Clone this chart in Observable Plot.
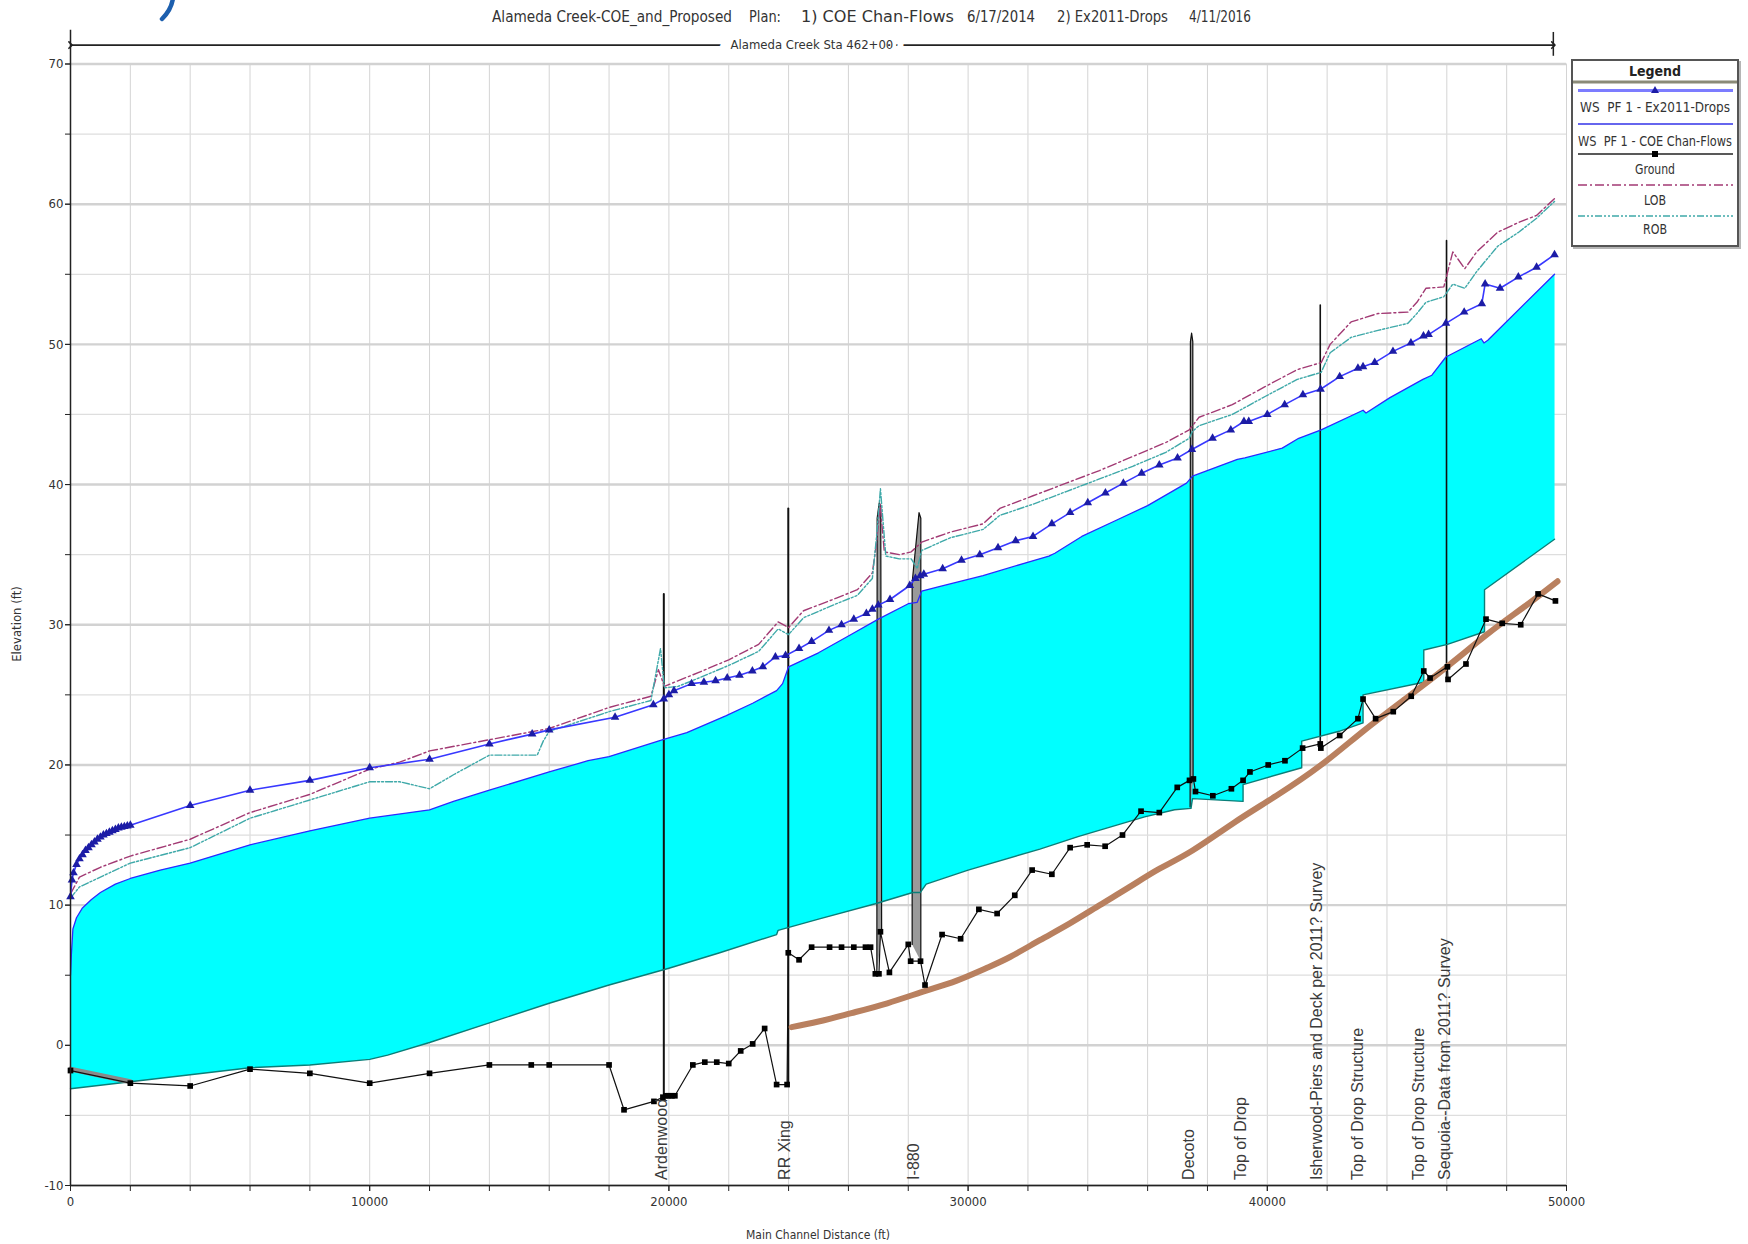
<!DOCTYPE html>
<html><head><meta charset="utf-8">
<script src="https://cdn.jsdelivr.net/npm/d3@7"></script>
<script src="https://cdn.jsdelivr.net/npm/@observablehq/plot@0.6"></script>
<style>html,body{margin:0;padding:0;background:#fff;} #chart{width:1748px;height:1244px;overflow:hidden;position:relative;}</style>
</head><body><div id="chart"></div>
<script>
// ---------- DATA (Main Channel Distance ft, Elevation ft) ----------
const exWS = [[0,10.6],[50,11.8],[100,12.3],[200,12.9],[300,13.3],[400,13.6],[500,13.9],[600,14.1],[700,14.3],[800,14.5],[900,14.7],[1000,14.85],[1100,15.0],[1200,15.1],[1300,15.2],[1400,15.3],[1500,15.4],[1600,15.5],[1700,15.55],[1800,15.6],[1900,15.65],[2000,15.7],[4000,17.1],[6000,18.2],[8000,18.9],[10000,19.8],[12000,20.4],[14000,21.5],[15430,22.2],[16000,22.5],[18200,23.4],[19480,24.3],[19830,24.7],[20000,25.0],[20170,25.3],[20760,25.8],[21170,25.9],[21560,26.0],[21950,26.2],[22360,26.4],[22790,26.7],[23140,27.0],[23560,27.7],[23900,27.8],[24350,28.3],[24770,28.8],[25350,29.6],[25770,30.0],[26180,30.4],[26600,30.8],[26800,31.1],[27000,31.4],[27390,31.8],[28050,32.8],[28240,33.3],[28400,33.5],[28520,33.6],[29150,34.0],[29780,34.6],[30390,35.0],[31000,35.5],[31590,36.0],[32170,36.3],[32800,37.2],[33410,38.0],[34000,38.7],[34590,39.4],[35190,40.1],[35800,40.8],[36390,41.4],[37000,41.9],[37480,42.5],[38170,43.3],[38780,43.9],[39220,44.5],[39380,44.5],[40000,45.0],[40580,45.7],[41190,46.4],[41780,46.8],[42420,47.7],[43030,48.3],[43200,48.4],[43590,48.7],[44200,49.5],[44800,50.1],[45220,50.6],[45390,50.7],[45970,51.5],[46580,52.3],[47170,52.9],[47280,54.3],[47780,54.0],[48390,54.8],[49000,55.5],[49600,56.4]];

const coeWS = [[0,5.0],[30,6.5],[80,8.3],[200,9.1],[400,9.8],[700,10.4],[1000,10.9],[1500,11.5],[2000,11.9],[3000,12.5],[4000,13.0],[6000,14.3],[8000,15.3],[10000,16.2],[12000,16.8],[12800,17.4],[14000,18.2],[16000,19.5],[17300,20.3],[18000,20.6],[19800,21.8],[20600,22.3],[21900,23.5],[22800,24.4],[23600,25.3],[23800,25.8],[24000,27.0],[25000,28.0],[26000,29.2],[27000,30.4],[28000,31.5],[28300,31.6],[28450,32.4],[29000,32.7],[30500,33.5],[31900,34.4],[32700,34.9],[32900,35.1],[33800,36.3],[34900,37.4],[36000,38.5],[37300,40.1],[37500,40.6],[39000,41.8],[39250,41.9],[40500,42.6],[41050,43.3],[41800,43.9],[43200,45.3],[43300,45.1],[44100,46.2],[45200,47.5],[45500,47.8],[45970,49.1],[47150,50.4],[47240,50.1],[47370,50.3],[49600,55.0]];

const coeBed = [[0,-3.1],[2000,-2.6],[4000,-2.1],[6000,-1.6],[8000,-1.4],[10000,-1.0],[10600,-0.7],[12000,0.2],[14000,1.6],[16000,3.0],[18000,4.3],[20000,5.5],[21700,6.6],[23600,7.9],[23650,8.2],[25000,9.0],[26900,10.1],[28150,10.9],[28400,10.9],[28600,11.5],[30000,12.5],[32400,14.0],[33700,14.9],[34800,15.6],[35900,16.3],[36900,16.8],[37450,16.9],[37500,17.6],[39190,17.4],[39190,18.6],[41150,19.8],[41150,21.7],[42400,22.4],[43200,23.0],[43200,25.0],[45230,25.9],[45230,28.2],[46020,28.6],[47260,29.5],[47260,32.5],[49600,36.1]];

const ground = [[0,-1.8],[2000,-2.7],[4000,-2.9],[6000,-1.7],[8000,-2.0],[10000,-2.7],[12000,-2.0],[14000,-1.4],[15400,-1.4],[16000,-1.4],[18000,-1.4],[18500,-4.6],[19500,-4.0],[19800,-3.7],[19900,-3.6],[20000,-3.6],[20100,-3.6],[20200,-3.6],[20800,-1.4],[21200,-1.2],[21600,-1.2],[22000,-1.3],[22400,-0.4],[22800,0.1],[23200,1.2],[23600,-2.8],[23950,-2.8],[23990,6.6],[24350,6.1],[24770,7.0],[25370,7.0],[25770,7.0],[26180,7.0],[26570,7.0],[26740,7.0],[26900,5.1],[27020,5.1],[27070,8.1],[27370,5.2],[28000,7.2],[28080,6.0],[28410,6.0],[28560,4.3],[29130,7.9],[29750,7.6],[30360,9.7],[30970,9.4],[31560,10.7],[32140,12.5],[32800,12.2],[33410,14.1],[33980,14.3],[34580,14.2],[35160,15.0],[35780,16.7],[36390,16.6],[36990,18.4],[37400,18.9],[37530,19.0],[37600,18.1],[38180,17.8],[38800,18.3],[39190,18.9],[39420,19.5],[40030,20.0],[40590,20.3],[41180,21.2],[41770,21.5],[41790,21.2],[42420,22.1],[43030,23.3],[43200,24.7],[43620,23.3],[44210,23.8],[44810,24.9],[45230,26.7],[45440,26.2],[46020,27.0],[46040,26.1],[46640,27.2],[47310,30.4],[47850,30.1],[48470,30.0],[49050,32.2],[49630,31.7]];

const lob = [[0,10.8],[300,12.0],[1000,12.7],[2000,13.5],[4000,14.7],[6000,16.6],[8000,17.9],[10000,19.7],[11000,20.2],[12000,21.0],[14000,21.8],[16000,22.6],[18000,24.1],[19400,24.9],[19650,26.8],[19850,25.6],[20300,26.0],[21000,26.6],[22000,27.5],[23000,28.6],[23650,30.2],[24000,29.8],[24500,31.0],[25600,31.9],[26300,32.5],[26800,33.7],[26950,36.0],[27060,38.6],[27200,35.2],[27700,35.0],[28100,35.2],[28450,35.9],[29400,36.6],[30500,37.2],[31060,38.3],[32170,39.2],[33280,40.1],[34390,41.0],[35500,42.0],[36610,43.0],[37390,43.9],[37500,44.2],[37720,44.8],[38830,45.7],[39940,47.0],[41000,48.2],[41800,48.7],[42100,50.0],[42800,51.6],[43700,52.2],[44700,52.3],[45000,53.0],[45300,54.0],[45900,54.1],[46200,56.6],[46600,55.4],[47000,56.6],[47700,58.0],[48400,58.7],[49000,59.2],[49600,60.4]];

const rob = [[0,10.5],[300,11.3],[1000,12.0],[2000,13.0],[4000,14.1],[6000,16.2],[8000,17.5],[10000,18.8],[11000,18.8],[12000,18.3],[12800,19.3],[14000,20.7],[15600,20.7],[15800,21.7],[16000,22.4],[18000,23.8],[19400,24.6],[19720,28.3],[19850,25.5],[20300,25.6],[21000,26.2],[22000,27.1],[23000,28.1],[23650,29.7],[24000,29.3],[24500,30.5],[25600,31.5],[26300,32.1],[26800,33.3],[26950,36.5],[27070,39.7],[27250,34.9],[27700,34.7],[28100,34.7],[28300,34.0],[28450,35.3],[29400,36.2],[30500,36.8],[31060,37.8],[32170,38.6],[33280,39.5],[34390,40.4],[35500,41.3],[36610,42.3],[37390,43.3],[37500,43.8],[37720,44.2],[38830,45.0],[39940,46.3],[41000,47.5],[41800,48.0],[42100,49.4],[42800,50.5],[43700,51.0],[44700,51.5],[45000,52.2],[45300,53.0],[45900,53.4],[46200,54.3],[46600,54.0],[47000,55.2],[47700,57.0],[48400,58.0],[49000,59.0],[49600,60.2]];

const brownCurve = [[24100,1.3],[25000,1.7],[26100,2.3],[27300,3.0],[28600,3.9],[29600,4.6],[30600,5.5],[31400,6.3],[32400,7.5],[33400,8.7],[34400,10.0],[35400,11.3],[36400,12.6],[37500,13.9],[38900,15.9],[40300,17.8],[41800,20.0],[43200,22.4],[44600,24.7],[46000,27.0],[47400,29.4],[48600,31.3],[49700,33.1]];
const grayLine = [[0,-1.7],[2000,-2.6]];

const bridgeArdenwood = [[19830,-3.7],[19830,32.2]];
const bridgeRR = [[23990,-2.9],[23990,38.3]];
const bridge27000 = [[26950,5.1],[26960,37.6],[27030,38.7],[27080,38.4],[27110,8.1]];
const bridgeI880 = [[28130,7.2],[28130,33.0],[28360,38.0],[28420,37.6],[28420,6.0]];
const bridgeDecoto = [[37420,17.0],[37430,50.2],[37470,50.8],[37510,50.2],[37520,18.9]];
const bridgeIsherwood = [[41770,21.4],[41770,52.8]];
const bridgeSequoia = [[45990,26.3],[45990,57.4]];

const structureNames = ["Ardenwood","RR Xing","I-880","Decoto","Top of Drop","Isherwood-Piers and Deck per 2011? Survey","Top of Drop Structure","Top of Drop Structure","Sequoia--Data from 2011? Survey"];
const structureStations = [19750,23880,28200,37390,39110,41650,43030,45050,45930];

const reachStart = 0, reachEnd = 49560, reachLabel = "Alameda Creek Sta 462+00";

const xLabelTicks = [0,10000,20000,30000,40000,50000];
const xMinorTicks = d3.range(0,50001,2000);
const yLabelTicks = [-10,0,10,20,30,40,50,60,70];
const yMinorTicks = d3.range(-10,71,5);

const titleParts = ["Alameda Creek-COE_and_Proposed","Plan:","1) COE Chan-Flows","6/17/2014","2) Ex2011-Drops","4/11/2016"];
const legendItems = ["WS  PF 1 - Ex2011-Drops","WS  PF 1 - COE Chan-Flows","Ground","LOB","ROB"];

// ---------- CHART ----------
const NARROW = "'Liberation Sans Narrow','Arial Narrow','DejaVu Sans Condensed',sans-serif";
const SANS = "'Liberation Sans',Arial,sans-serif";
const pts = a => a.map(([x,y]) => ({x, y}));
const cyanPoly = pts([...coeWS, ...coeBed.slice().reverse()]);
const structs = structureNames.map((name,i) => ({name, x: structureStations[i]}));
const labelBase = -9.6;
const reachY = 71.35;

const C_WS_EX = "#3838ff", C_TRI = "#1c1ca6", C_WS_COE = "#2a2aff";
const C_BED = "#0b7e78", C_LOB = "#a23a74", C_ROB = "#3fa9a9", C_BROWN = "#b9805f";

const bridgeMark = (a, w) => Plot.line(pts(a), {x:"x", y:"y", stroke:"#111", strokeWidth:w});
const bridgeFill = (a) => Plot.line(pts(a), {x:"x", y:"y", stroke:"#111", strokeWidth:1.2, fill:"#9a9a9a"});

const chart = Plot.plot({
  width: 1748, height: 1244,
  marginLeft: 70, marginRight: 182, marginTop: 63.5, marginBottom: 59,
  x: {domain: [0, 50000], axis: null},
  y: {domain: [-10, 70], axis: null},
  style: {fontFamily: NARROW, background: "white", overflow: "visible"},
  marks: [
    Plot.gridX(xMinorTicks, {stroke: "#d4d4d4", strokeOpacity: 1, strokeWidth: 1}),
    Plot.gridY(yMinorTicks.filter(d => d % 10 !== 0), {stroke: "#dedede", strokeOpacity: 1, strokeWidth: 1.3}),
    Plot.gridY(yLabelTicks, {stroke: "#d2d2d2", strokeOpacity: 1, strokeWidth: 2.4}),
    // water fill
    Plot.line(cyanPoly, {x:"x", y:"y", fill:"#00ffff", stroke:"none", curve:"linear"}),
    // structures
    bridgeMark(bridgeArdenwood, 2),
    bridgeMark(bridgeRR, 2),
    bridgeFill(bridge27000),
    bridgeFill(bridgeI880),
    bridgeFill(bridgeDecoto),
    bridgeMark(bridgeIsherwood, 1.6),
    bridgeMark(bridgeSequoia, 1.6),
    // COE plan
    Plot.line(pts(coeWS), {x:"x", y:"y", stroke:C_WS_COE, strokeWidth:1.3}),
    Plot.line(pts(coeBed), {x:"x", y:"y", stroke:C_BED, strokeWidth:1.4}),
    // sketched lines
    Plot.line(pts(brownCurve), {x:"x", y:"y", stroke:C_BROWN, strokeWidth:6, curve:"natural"}),
    Plot.line(pts(grayLine), {x:"x", y:"y", stroke:"#8a8a8a", strokeWidth:5}),
    // ground
    Plot.line(pts(ground), {x:"x", y:"y", stroke:"#111", strokeWidth:1.2}),
    Plot.dot(pts(ground), {x:"x", y:"y", symbol:"square", r:3.2, fill:"#000", stroke:"none"}),
    // banks
    Plot.line(pts(lob), {x:"x", y:"y", stroke:C_LOB, strokeWidth:1.4, strokeDasharray:"9,3,2,3"}),
    Plot.line(pts(rob), {x:"x", y:"y", stroke:C_ROB, strokeWidth:1.4, strokeDasharray:"7,2,2,2,2,2"}),
    // Ex2011 WS
    Plot.line(pts(exWS), {x:"x", y:"y", stroke:C_WS_EX, strokeWidth:1.6}),
    Plot.dot(pts(exWS), {x:"x", y:"y", symbol:"triangle", r:3.2, fill:C_TRI, stroke:"none"}),
    // structure labels
    Plot.text(structs, {x:"x", y: () => labelBase, text:"name", rotate:-90, textAnchor:"start", lineAnchor:"middle", fontSize:16, fontFamily:SANS, fill:"#3a3a3a"}),
    // axes
    Plot.ruleY([-10], {stroke:"#222", strokeWidth:1.5}),
    Plot.ruleX([0], {y1:-10, y2:72.4, stroke:"#222", strokeWidth:1.5}),
    Plot.axisX(xMinorTicks, {tickSize:6, tickFormat:() => "", label:null, stroke:"#222"}),
    Plot.axisX(xLabelTicks, {tickSize:6, tickPadding:5, label:null, fontSize:13, fill:"#333", stroke:"#222", tickFormat: d => String(d)}),
    Plot.axisY(yMinorTicks, {tickSize:5, tickFormat:() => "", label:null, stroke:"#222"}),
    Plot.axisY(yLabelTicks, {tickSize:5, tickPadding:2, label:null, fontSize:13, fill:"#333", stroke:"#222", tickFormat: d => String(d)}),
    // reach arrow
    Plot.link([{x1:reachStart, x2:reachEnd, y:reachY}], {x1:"x1", x2:"x2", y1:"y", y2:"y", stroke:"#222", strokeWidth:1.6, markerStart:"arrow", markerEnd:"arrow"}),
    Plot.ruleX([reachEnd], {y1: reachY - 0.8, y2: reachY + 0.9, stroke:"#222", strokeWidth:1.5}),
    Plot.text([reachLabel], {x: () => (reachStart + reachEnd) / 2, y: () => reachY, text: d => d, fontSize:13, fill:"#333", stroke:"white", strokeWidth:22, paintOrder:"stroke"})
  ]
});

document.getElementById("chart").appendChild(chart);
const svg = d3.select(chart);

// title
const titleX = [[492,732],[749,781],[801,954],[967,1035],[1057,1168],[1189,1251]];
titleParts.forEach((t,i) => {
  svg.append("text").attr("x", titleX[i][0]).attr("y", 22).attr("text-anchor", "start").attr("font-family", NARROW)
    .attr("font-size", 16).attr("fill", "#333").attr("textLength", titleX[i][1]-titleX[i][0])
    .attr("lengthAdjust", "spacingAndGlyphs").text(t);
});
// partial (cropped) blue glyph stroke at top-left
svg.append("path").attr("d", "M173,-2 C172,6 168,13 162,19").attr("fill", "none")
  .attr("stroke", "#1d5fae").attr("stroke-width", 4.5).attr("stroke-linecap", "round");

// axis titles
svg.append("text").attr("x", 818).attr("y", 1239).attr("text-anchor", "middle").attr("font-family", NARROW)
  .attr("font-size", 13).attr("fill", "#333").attr("textLength", 144).attr("lengthAdjust", "spacingAndGlyphs").text("Main Channel Distance (ft)");
svg.append("text").attr("transform", "translate(21,624) rotate(-90)").attr("text-anchor", "middle")
  .attr("font-family", NARROW).attr("font-size", 13).attr("fill", "#333").text("Elevation (ft)");

// legend
const lg = svg.append("g").attr("text-anchor", "start");
lg.append("rect").attr("x", 1574).attr("y", 62).attr("width", 166).attr("height", 186).attr("fill", "none").attr("stroke", "#b5b5b5").attr("stroke-width", 2);
lg.append("rect").attr("x", 1572).attr("y", 60).attr("width", 166).attr("height", 186).attr("fill", "white").attr("stroke", "#555").attr("stroke-width", 2);
lg.append("text").attr("x", 1655).attr("y", 76).attr("text-anchor", "middle").attr("font-family", NARROW).attr("font-size", 14).attr("font-weight", "bold").attr("fill", "#222").text("Legend");
lg.append("line").attr("x1", 1573).attr("x2", 1737).attr("y1", 82).attr("y2", 82).attr("stroke", "#8a8a78").attr("stroke-width", 3);
const L = (y, stroke, w, dash) => lg.append("line").attr("x1", 1578).attr("x2", 1733).attr("y1", y).attr("y2", y).attr("stroke", stroke).attr("stroke-width", w).attr("stroke-dasharray", dash || null);
L(90.5, "#7c7cff", 3); L(124, "#6666ee", 2.2); L(154, "#222", 1.5); L(185, C_LOB, 1.6, "9,3,2,3"); L(216, C_ROB, 1.6, "7,2,2,2,2,2");
lg.append("path").attr("d", "M1655,86 L1659,93 L1651,93 Z").attr("fill", C_TRI);
lg.append("rect").attr("x", 1652).attr("y", 151).attr("width", 6).attr("height", 6).attr("fill", "#000");
const legendY = [112, 146, 174, 205, 234];
const legendW = [150, 154, 40, 22, 24];
legendItems.forEach((t,i) => {
  lg.append("text").attr("x", 1655 - legendW[i]/2).attr("y", legendY[i]).attr("text-anchor", "start").attr("font-family", NARROW)
    .attr("font-size", 14).attr("fill", "#333").attr("textLength", legendW[i]).attr("lengthAdjust", "spacingAndGlyphs").text(t);
});
</script></body></html>
